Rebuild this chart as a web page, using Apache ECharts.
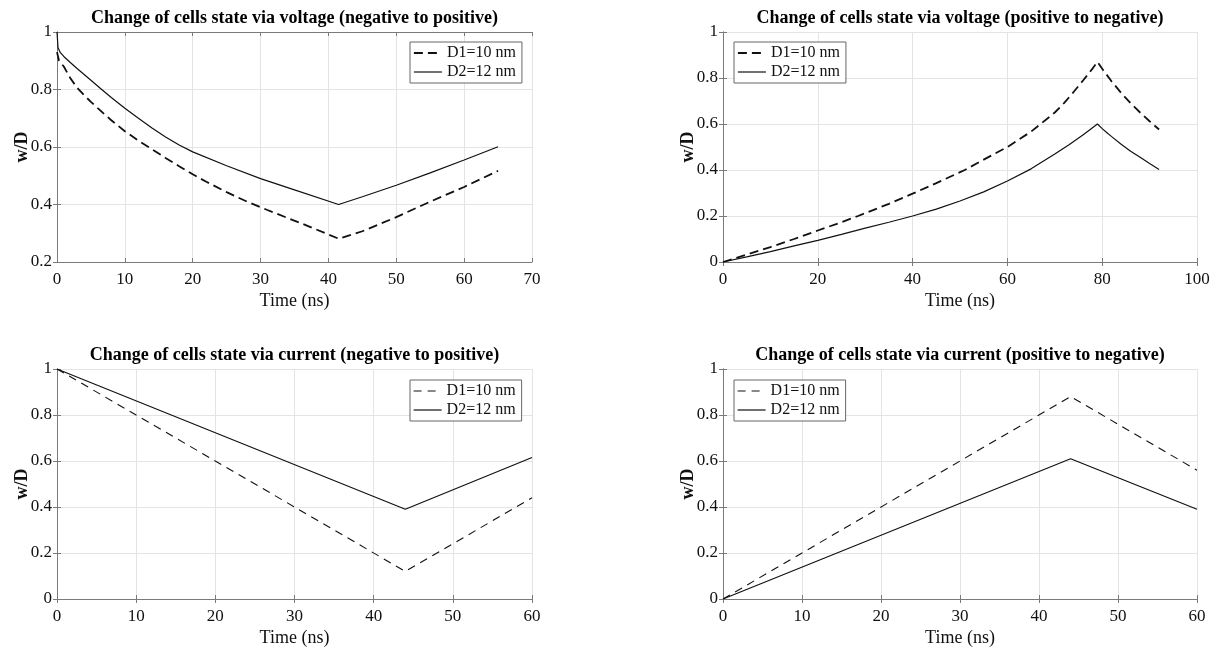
<!DOCTYPE html>
<html>
<head>
<meta charset="utf-8">
<script src="https://cdn.jsdelivr.net/npm/echarts@6/dist/echarts.min.js"></script>
<style>
html,body{margin:0;padding:0;background:#fff;}
#chart{width:1219px;height:649px;}
</style>
</head>
<body>
<div id="chart"></div>
<script>
// ---- Data ----
const titles = [
  'Change of cells state via voltage (negative to positive)',
  'Change of cells state via voltage (positive to negative)',
  'Change of cells state via current (negative to positive)',
  'Change of cells state via current (positive to negative)'
];
const seriesNames = ['D1=10 nm', 'D2=12 nm'];
const xAxisName = 'Time (ns)';
const yAxisName = 'w/D';

// Plot 1: voltage, negative to positive
const p1D1_t = [0, 0.3, 1, 2, 3, 4, 5, 6, 8, 10, 12, 14, 16, 18, 20, 22, 25, 28, 31, 34, 37, 41.5, 45, 50, 55, 60, 65];
const p1D1_w = [0.93, 0.9, 0.88, 0.838, 0.805, 0.78, 0.757, 0.735, 0.693, 0.655, 0.622, 0.592, 0.562, 0.533, 0.505, 0.479, 0.443, 0.41, 0.381, 0.353, 0.325, 0.281, 0.307, 0.356, 0.41, 0.461, 0.517];
const p1D2_t = [0, 0.15, 0.5, 1, 2, 3, 4, 5, 6.5, 8, 10, 12, 14, 16, 18, 20, 25, 30, 35, 41.5, 45, 50, 55, 60, 65];
const p1D2_w = [1.0, 0.945, 0.928, 0.915, 0.893, 0.872, 0.852, 0.832, 0.802, 0.772, 0.735, 0.7, 0.666, 0.635, 0.607, 0.583, 0.535, 0.49, 0.451, 0.4, 0.427, 0.467, 0.51, 0.555, 0.601];

// Plot 2: voltage, positive to negative
const p2D1_t = [0, 5, 10, 15, 20, 25, 28.5, 35, 40, 45, 51, 55, 60, 65, 67, 70, 72, 74, 76, 78, 79, 80, 82, 84, 86, 88, 90, 92];
const p2D1_w = [0, 0.032, 0.065, 0.1, 0.137, 0.173, 0.2, 0.253, 0.297, 0.343, 0.4, 0.445, 0.5, 0.567, 0.6, 0.65, 0.692, 0.74, 0.79, 0.842, 0.87, 0.84, 0.785, 0.735, 0.69, 0.65, 0.612, 0.576];
const p2D2_t = [0, 5, 10, 15, 20, 25, 30, 35, 40, 45, 50, 55, 60, 65, 70, 73, 76, 79, 80, 81, 82, 84, 86, 88, 90, 92];
const p2D2_w = [0, 0.022, 0.045, 0.07, 0.094, 0.12, 0.147, 0.173, 0.2, 0.23, 0.265, 0.305, 0.352, 0.405, 0.47, 0.51, 0.553, 0.6, 0.58, 0.562, 0.545, 0.512, 0.482, 0.455, 0.428, 0.402];

// Plot 3: current, negative to positive
const p3D1_t = [0, 44, 60];
const p3D1_w = [1.0, 0.12, 0.44];
const p3D2_t = [0, 44, 60];
const p3D2_w = [1.0, 0.39, 0.615];

// Plot 4: current, positive to negative
const p4D1_t = [0, 44, 60];
const p4D1_w = [0, 0.88, 0.56];
const p4D2_t = [0, 44, 60];
const p4D2_w = [0, 0.61, 0.39];

const xRanges = [[0, 70, 10], [0, 100, 20], [0, 60, 10], [0, 60, 10]];
const yRanges = [[0.2, 1, 0.2], [0, 1, 0.2], [0, 1, 0.2], [0, 1, 0.2]];

// ---- Layout ----
const FONT = "'Liberation Serif', 'Times New Roman', serif";
const grids = [
  {left: 57, top: 32, width: 475, height: 230},
  {left: 723, top: 32, width: 474, height: 230},
  {left: 57, top: 369, width: 475, height: 230},
  {left: 723, top: 369, width: 474, height: 230}
];
const legendPos = [
  {left: 410, top: 42}, {left: 734, top: 42},
  {left: 410, top: 380}, {left: 734, top: 380}
];
const titleTops = [9, 9, 346, 346];
const frameColor = '#7a7a7a';
const gridColor = '#e4e4e4';

function pairs(t, w) { return t.map((v, i) => [v, w[i]]); }
const allData = [
  [pairs(p1D1_t, p1D1_w), pairs(p1D2_t, p1D2_w)],
  [pairs(p2D1_t, p2D1_w), pairs(p2D2_t, p2D2_w)],
  [pairs(p3D1_t, p3D1_w), pairs(p3D2_t, p3D2_w)],
  [pairs(p4D1_t, p4D1_w), pairs(p4D2_t, p4D2_w)]
];
const dashStyles = [
  {width: 1.8, type: [9, 5]},
  {width: 1.8, type: [9, 5]},
  {width: 1.1, type: [8, 6]},
  {width: 1.1, type: [8, 6]}
];
const solidStyle = {width: 1.2, type: 'solid', color: '#111'};

const xAxes = [], yAxes = [], series = [], titleArr = [], legends = [];
grids.forEach((g, i) => {
  const [xmin, xmax, xint] = xRanges[i];
  const [ymin, ymax, yint] = yRanges[i];
  xAxes.push({
    type: 'value', gridIndex: i, min: xmin, max: xmax, interval: xint,
    name: xAxisName, nameLocation: 'middle', nameGap: 30, nameMoveOverlap: false,
    nameTextStyle: {fontFamily: FONT, fontSize: 18, color: '#111'},
    axisLine: {show: true, lineStyle: {color: frameColor, width: 1}},
    axisTick: {show: true, inside: true, length: 4, lineStyle: {color: frameColor}},
    axisLabel: {fontFamily: FONT, fontSize: 17, color: '#111', margin: 9},
    splitLine: {show: true, lineStyle: {color: gridColor, width: 1}}
  });
  yAxes.push({
    type: 'value', gridIndex: i, min: ymin, max: ymax, interval: yint,
    name: yAxisName, nameLocation: 'middle', nameGap: 26, nameRotate: 90, nameMoveOverlap: false,
    nameTextStyle: {fontFamily: FONT, fontSize: 18, fontWeight: 'bold', color: '#111'},
    axisLine: {show: true, lineStyle: {color: frameColor, width: 1}},
    axisTick: {show: true, inside: true, length: 4, lineStyle: {color: frameColor}},
    axisLabel: {fontFamily: FONT, fontSize: 17, color: '#111', margin: 5},
    splitLine: {show: true, lineStyle: {color: gridColor, width: 1}}
  });
  titleArr.push({
    text: titles[i], left: g.left + g.width / 2, top: titleTops[i], textAlign: 'center', padding: 0,
    textStyle: {fontFamily: FONT, fontSize: 18, fontWeight: 'bold', color: '#000'}
  });
  series.push({
    name: seriesNames[0], type: 'line', xAxisIndex: i, yAxisIndex: i,
    data: allData[i][0], symbol: 'none', animation: false,
    lineStyle: Object.assign({color: '#111'}, dashStyles[i]), itemStyle: {color: '#111'}
  });
  series.push({
    name: seriesNames[1], type: 'line', xAxisIndex: i, yAxisIndex: i,
    data: allData[i][1], symbol: 'none', animation: false,
    lineStyle: solidStyle, itemStyle: {color: '#111'}
  });
  legends.push({
    left: legendPos[i].left, top: legendPos[i].top, orient: 'vertical',
    padding: [3, 6, 3, 3], itemGap: 3, itemWidth: 28, itemHeight: 14,
    backgroundColor: '#fff', borderColor: '#666', borderWidth: 1,
    selectedMode: false,
    itemStyle: {opacity: 0},
    textStyle: {fontFamily: FONT, fontSize: 16, color: '#111'},
    data: [
      {name: seriesNames[0], lineStyle: Object.assign({color: '#111'}, dashStyles[i]), itemStyle: {opacity: 0}},
      {name: seriesNames[1], lineStyle: solidStyle, itemStyle: {opacity: 0}}
    ]
  });
});
// top/right frame axes
grids.forEach((g, i) => {
  const [xmin, xmax, xint] = xRanges[i];
  const [ymin, ymax, yint] = yRanges[i];
  xAxes.push({
    type: 'value', gridIndex: i, position: 'top', min: xmin, max: xmax, interval: xint,
    axisLine: {show: true, lineStyle: {color: frameColor, width: 1}},
    axisTick: {show: true, inside: true, length: 4, lineStyle: {color: frameColor}},
    axisLabel: {show: false}, splitLine: {show: false}
  });
  yAxes.push({
    type: 'value', gridIndex: i, position: 'right', min: ymin, max: ymax, interval: yint,
    axisLine: {show: true, lineStyle: {color: frameColor, width: 1}},
    axisTick: {show: true, inside: true, length: 4, lineStyle: {color: frameColor}},
    axisLabel: {show: false}, splitLine: {show: false}
  });
});

const chart = echarts.init(document.getElementById('chart'), null, {renderer: 'canvas'});
chart.setOption({
  animation: false,
  backgroundColor: '#fff',
  title: titleArr,
  grid: grids,
  xAxis: xAxes,
  yAxis: yAxes,
  legend: legends,
  series: series
});
</script>
</body>
</html>
